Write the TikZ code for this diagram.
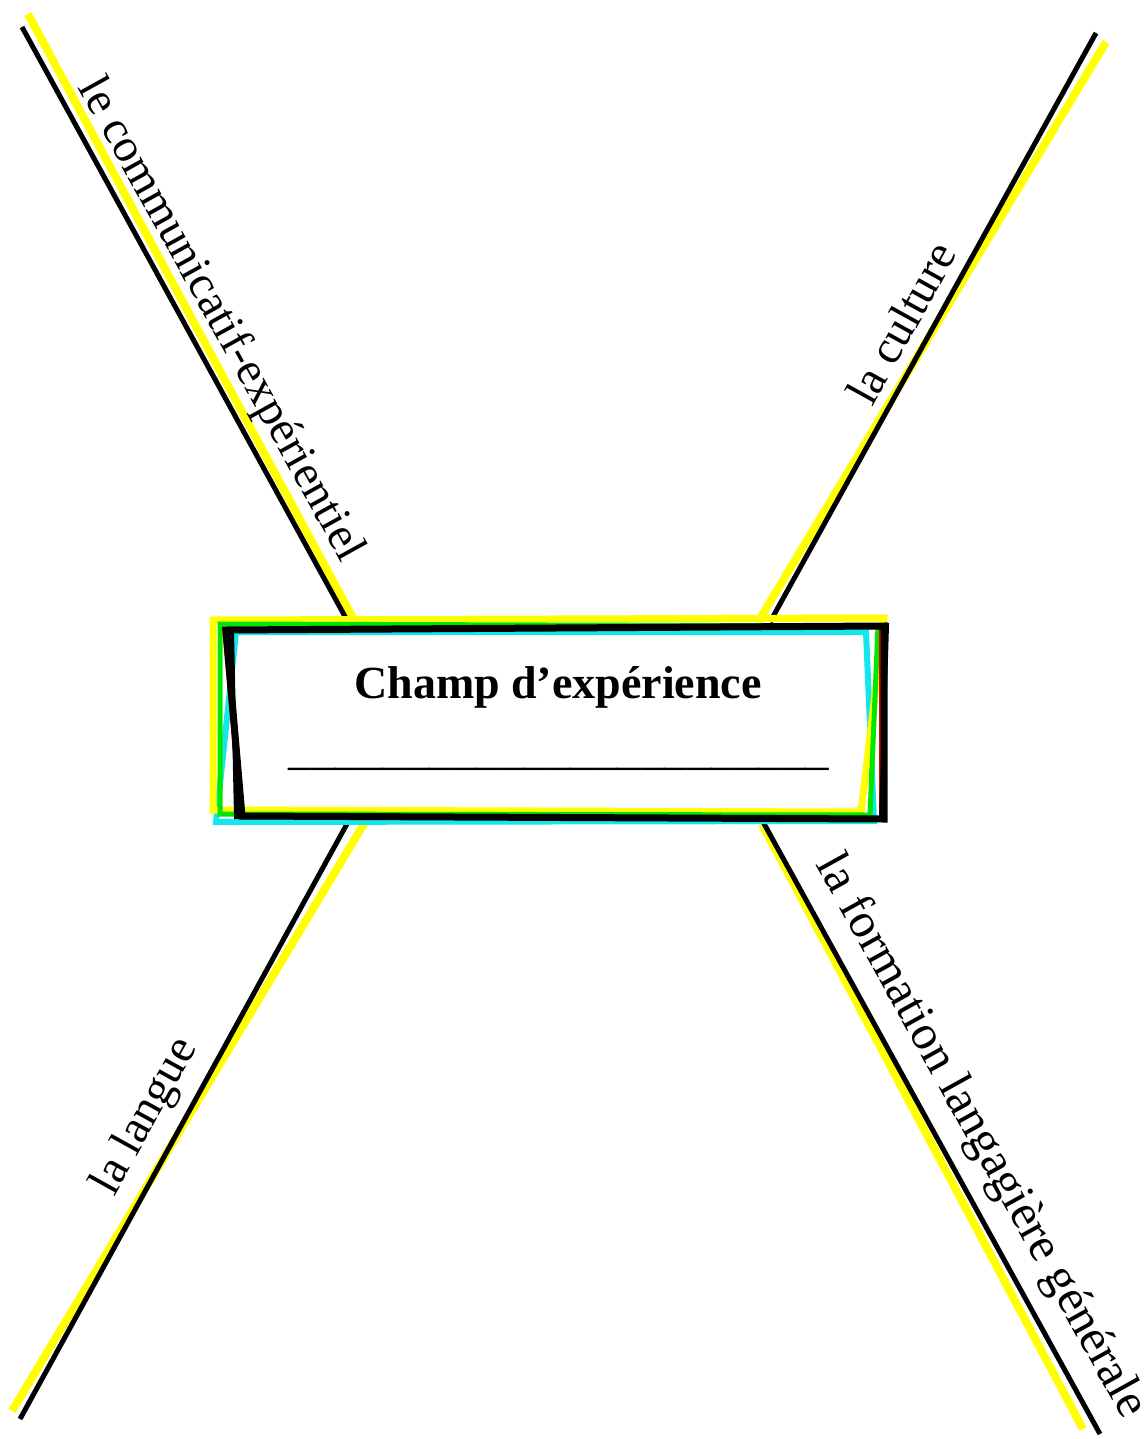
\documentclass[tikz,border=0pt]{standalone}
\usepackage{fontspec}
\setmainfont{Liberation Serif}
\definecolor{hlyellow}{RGB}{255,255,0}
\definecolor{hlgreen}{RGB}{0,230,0}
\definecolor{hlcyan}{RGB}{20,230,235}
\definecolor{hlred}{RGB}{230,0,0}

\tikzset{
  branch/.style={black, line width=2.5pt},
  glow/.style={hlyellow, line width=4pt},
  label/.style={inner sep=0pt, font=\fontsize{23.5}{28}\selectfont},
  frame/.style={line width=#1, line join=miter}
}

\begin{document}
\begin{tikzpicture}[x=0.5pt,y=-0.5pt]
    \useasboundingbox (0,0) rectangle (1145,1439);

    % ends of the branches
    \coordinate (tl-b) at (22,27);    \coordinate (tl-bb) at (348,622);
    \coordinate (tl-y) at (28,14);    \coordinate (tl-yb) at (355,622);
    \coordinate (tr-b) at (1096,33);  \coordinate (tr-bb) at (770,622);
    \coordinate (tr-y) at (1106,42);  \coordinate (tr-yb) at (758,622);
    \coordinate (bl-b) at (20,1419);  \coordinate (bl-bb) at (348,822);
    \coordinate (bl-y) at (12,1411);  \coordinate (bl-yb) at (365,822);
    \coordinate (br-b) at (1100,1434); \coordinate (br-bb) at (762,820);
    \coordinate (br-y) at (1083,1429); \coordinate (br-yb) at (762,824);

    \draw[glow] (tl-y) -- (tl-yb);
    \draw[branch] (tl-b) -- (tl-bb);
    \draw[glow] (tr-y) -- (tr-yb);
    \draw[branch] (tr-b) -- (tr-bb);
    \draw[glow] (bl-y) -- (bl-yb);
    \draw[branch] (bl-b) -- (bl-bb);
    \draw[glow] (br-y) -- (br-yb);
    \draw[branch] (br-b) -- (br-bb);

    % sketchy frame of the field
    \begin{scope}
      \draw[frame=3pt, hlcyan] (236,632) -- (866,632) -- (874,821) -- (216,822) -- cycle;
      \draw[frame=3.5pt, hlyellow] (213,620) -- (884,618) -- (861,812) -- (213,810) -- cycle;
      \draw[frame=2.5pt, hlgreen] (220,624) -- (878,626) -- (870,815) -- (220,814) -- cycle;
      \draw[frame=1pt, hlred] (223,628) -- (880,628) -- (880,818) -- (240,818) -- cycle;
      \draw[frame=3.5pt, black] (226,630) -- (884,626) -- (884,819) -- (242,816) -- cycle;
      \draw[frame=2pt, black] (232,631) -- (887,625) -- (881,818) -- (236,817) -- cycle;
      \draw[frame=2pt, black] (229,630) -- (238,817);
    \end{scope}

    \node[label, font=\fontsize{23}{28}\selectfont\bfseries] (field) at (558,687) {Champ d’expérience};
    \node[label, anchor=base] (blank) at (559,764) {\_\_\_\_\_\_\_\_\_\_\_\_\_\_\_\_\_\_\_\_\_\_\_};

    \node[label, rotate=-61] (comm) at (220,320) {le communicatif-expérientiel};
    \node[label, rotate=61] (cult) at (901,323) {la culture};
    \node[label, rotate=61] (lang) at (146,1117) {la langue};
    \node[label, rotate=-61, font=\fontsize{24.5}{29}\selectfont] (form) at (980,1137) {la formation langagière générale};
\end{tikzpicture}
\end{document}
